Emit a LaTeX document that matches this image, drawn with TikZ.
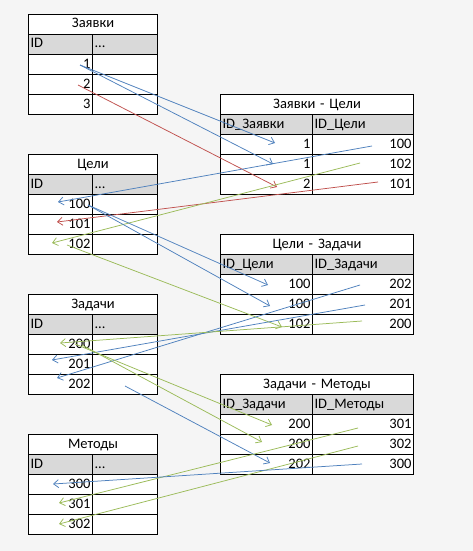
\documentclass[tikz,border=0pt]{standalone}
\usepackage{fontspec}
\setmainfont{Carlito}
\usetikzlibrary{arrows.meta}
\definecolor{lnblue}{HTML}{4F81BD}
\definecolor{lnred}{HTML}{C0504D}
\definecolor{lngreen}{HTML}{9BBB59}
\definecolor{hdr}{HTML}{D9D9D9}
\definecolor{bgc}{HTML}{F5F5F5}
\tikzset{
  cellbox/.style={draw=black, line width=1pt, fill=white, minimum height=20pt,
    inner xsep=2pt, inner ysep=0pt, anchor=north west,
    font=\fontsize{14.5}{16}\selectfont, text height=10pt, text depth=3pt},
  link/.style={line width=0.75pt, -{Straight Barb[length=5pt,width=8pt]}},
  bl/.style={link, draw=lnblue},
  rd/.style={link, draw=lnred},
  gr/.style={link, draw=lngreen},
}
\newcommand\mktable[9]{%
  \pgfmathsetmacro\twa{#4-4}\pgfmathsetmacro\twb{#5-4}\pgfmathsetmacro\twt{#4+#5-4}%
  \node[cellbox, text width=\twt pt, align=center] (#1-t) at (#2,#3) {#6};
  \node[cellbox, fill=hdr, text width=\twa pt, align=left] (#1-ha) at (#2,#3+20) {#7};
  \node[cellbox, fill=hdr, text width=\twb pt, align=left] (#1-hb) at (#2+#4,#3+20) {#8};
  \foreach \a/\b [count=\i] in {#9} {
    \node[cellbox, text width=\twa pt, align=right] (#1-\i a) at (#2,#3+20+20*\i) {\a};
    \node[cellbox, text width=\twb pt, align=right] (#1-\i b) at (#2+#4,#3+20+20*\i) {\b};
  }%
}
\begin{document}
\begin{tikzpicture}[x=1pt,y=-1pt]
\fill[bgc] (0,0) rectangle (473,551);
\useasboundingbox (0,0) rectangle (473,551);
% left tables
\mktable{za}{28}{14}{64}{65}{Заявки}{ID}{...}{1/,2/,3/}
\mktable{ce}{28}{154}{64}{65}{Цели}{ID}{...}{100/,101/,102/}
\mktable{zd}{28}{294}{64}{65}{Задачи}{ID}{...}{200/,201/,202/}
\mktable{me}{28}{434}{64}{65}{Методы}{ID}{...}{300/,301/,302/}
% right tables
\mktable{zc}{220}{94}{92}{101}{Заявки - Цели}{ID\_Заявки}{ID\_Цели}{1/100,1/102,2/101}
\mktable{cz}{220}{234}{92}{101}{Цели - Задачи}{ID\_Цели}{ID\_Задачи}{100/202,100/201,102/200}
\mktable{zm}{220}{374}{92}{101}{Задачи - Методы}{ID\_Задачи}{ID\_Методы}{200/301,200/302,202/300}
% connector end points
\coordinate (a1) at (80,65);   \coordinate (a2) at (78,85);
\coordinate (b1) at (275,143); \coordinate (b2) at (273,164); \coordinate (b3) at (277,187);
\coordinate (c1) at (372,146); \coordinate (c2) at (378,182); \coordinate (c3) at (360,163);
\coordinate (d1) at (58,202);  \coordinate (d2) at (57,222);  \coordinate (d3) at (52,243);
\coordinate (e1) at (88,205);  \coordinate (e2) at (67,245);
\coordinate (f1) at (268,285); \coordinate (f2) at (270,306); \coordinate (f3) at (282,327);
\coordinate (g1) at (360,285); \coordinate (g2) at (365,305); \coordinate (g3) at (362,321);
\coordinate (h1) at (57,378);  \coordinate (h2) at (52,360);  \coordinate (h3) at (60,343);
\coordinate (i1) at (75,344);  \coordinate (i2) at (82,345);  \coordinate (i3) at (125,386);
\coordinate (j1) at (272,425); \coordinate (j2) at (262,442); \coordinate (j3) at (270,463);
\coordinate (k1) at (358,428); \coordinate (k2) at (358,446); \coordinate (k3) at (362,464);
\coordinate (l1) at (59,503);  \coordinate (l2) at (59,524);  \coordinate (l3) at (53,484);
% connectors
\draw[bl] (a1) -- (b1);
\draw[bl] (a1) -- (b2);
\draw[rd] (a2) -- (b3);
\draw[bl] (c1) -- (d1);
\draw[rd] (c2) -- (d2);
\draw[gr] (c3) -- (d3);
\draw[bl] (e1) -- (f1);
\draw[bl] (e1) -- (f2);
\draw[gr] (e2) -- (f3);
\draw[bl] (g1) -- (h1);
\draw[bl] (g2) -- (h2);
\draw[gr] (g3) -- (h3);
\draw[gr] (i1) -- (j1);
\draw[gr] (i2) -- (j2);
\draw[bl] (i3) -- (j3);
\draw[gr] (k1) -- (l1);
\draw[gr] (k2) -- (l2);
\draw[bl] (k3) -- (l3);
\end{tikzpicture}
\end{document}
